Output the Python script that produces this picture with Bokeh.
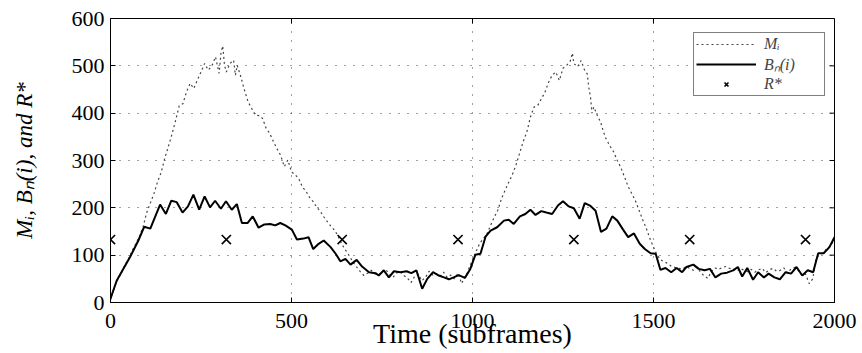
import numpy as np
from bokeh.plotting import figure
from bokeh.models import Range1d, Legend, LegendItem, FixedTicker
from bokeh.embed import file_html
from bokeh.resources import INLINE

# ---------------- data ----------------
m_time = [0, 10, 20, 30, 40, 50, 60, 70, 80, 90, 100, 110, 120, 130, 140, 150, 160, 170, 180, 190,
          200, 210, 220, 230, 240, 250, 260, 270, 280, 290, 300, 305, 310, 315, 320, 330, 340, 345, 350, 360,
          370, 380, 390, 400, 410, 420, 430, 440, 450, 460, 470, 480, 490, 500, 510, 520, 530, 540, 550, 560,
          570, 580, 590, 600, 610, 620, 630, 640, 650, 660, 670, 680, 690, 700, 710, 720, 730, 740, 750, 760,
          770, 780, 790, 800, 810, 820, 830, 840, 850, 860, 870, 880, 890, 900, 910, 920, 930, 940, 950, 960,
          970, 980, 985, 990, 1000, 1010, 1020, 1030, 1040, 1050, 1060, 1070, 1080, 1090, 1100, 1110, 1120, 1130, 1140, 1150,
          1160, 1170, 1180, 1190, 1200, 1210, 1220, 1230, 1240, 1250, 1260, 1270, 1276, 1280, 1290, 1300, 1310, 1317, 1321, 1326,
          1330, 1335, 1345, 1354, 1360, 1367, 1380, 1390, 1400, 1410, 1420, 1430, 1440, 1450, 1460, 1470, 1480, 1490, 1500, 1510,
          1520, 1530, 1540, 1550, 1560, 1570, 1580, 1590, 1600, 1610, 1620, 1630, 1640, 1650, 1660, 1670, 1680, 1690, 1700, 1710,
          1720, 1730, 1740, 1750, 1760, 1770, 1780, 1790, 1800, 1810, 1820, 1830, 1840, 1850, 1860, 1870, 1880, 1890, 1900, 1910,
          1920, 1930, 1940, 1950, 1960, 1970, 1980, 1990, 2000]
m_value = [5, 30, 48, 62, 80, 92, 110, 124, 140, 160, 190, 210, 230, 255, 275, 305, 330, 356, 385, 416,
           420, 445, 463, 452, 470, 487, 505, 491, 500, 519, 484, 526, 542, 501, 487, 505, 512, 480, 501, 477,
           449, 424, 410, 396, 395, 389, 368, 357, 340, 325, 311, 287, 301, 276, 270, 262, 244, 235, 222, 213,
           201, 192, 180, 170, 160, 152, 138, 122, 110, 98, 85, 75, 65, 57, 62, 68, 61, 58, 64, 70,
           60, 53, 62, 66, 57, 52, 42, 55, 60, 46, 53, 66, 58, 61, 55, 64, 53, 58, 50, 62,
           40, 55, 61, 72, 90, 108, 125, 135, 145, 163, 180, 195, 219, 237, 254, 270, 290, 315, 340, 360,
           392, 413, 416, 430, 444, 465, 480, 487, 469, 495, 501, 510, 527, 505, 498, 511, 490, 483, 455, 434,
           400, 413, 395, 381, 365, 349, 330, 318, 300, 285, 265, 245, 230, 215, 195, 175, 157, 135, 117, 100,
           90, 86, 82, 76, 74, 72, 70, 76, 72, 68, 75, 64, 56, 51, 66, 73, 70, 74, 76, 72,
           71, 66, 72, 68, 65, 70, 64, 69, 72, 63, 69, 72, 66, 68, 73, 62, 71, 74, 68, 57,
           60, 40, 50, 96, 100, 106, 115, 120, 134]

b_time = [0, 17, 36, 54, 77, 93, 110, 137, 153, 168, 183, 199, 214, 229, 245, 260, 275, 289, 305, 319,
          335, 349, 363, 379, 393, 409, 425, 441, 455, 469, 483, 501, 515, 533, 547, 560, 575, 589, 608, 622,
          635, 649, 663, 680, 695, 714, 732, 741, 755, 769, 783, 801, 818, 831, 845, 861, 875, 891, 907, 921,
          935, 948, 962, 979, 994, 1008, 1022, 1036, 1050, 1068, 1087, 1100, 1114, 1131, 1146, 1160, 1174, 1190, 1204, 1220,
          1236, 1250, 1266, 1280, 1296, 1310, 1326, 1340, 1355, 1370, 1386, 1400, 1416, 1430, 1446, 1462, 1476, 1492, 1506, 1519,
          1533, 1549, 1564, 1579, 1591, 1610, 1625, 1641, 1656, 1671, 1687, 1703, 1720, 1733, 1745, 1759, 1775, 1789, 1805, 1818,
          1834, 1849, 1865, 1880, 1895, 1911, 1926, 1941, 1955, 1970, 1986, 2000]
b_value = [8, 46, 72, 96, 131, 160, 156, 207, 187, 215, 212, 190, 203, 228, 196, 224, 201, 215, 198, 214,
           196, 208, 168, 168, 182, 158, 165, 166, 163, 168, 163, 154, 133, 135, 138, 113, 124, 131, 117, 103,
           87, 92, 80, 90, 76, 64, 62, 57, 68, 53, 66, 64, 66, 62, 68, 29, 50, 64, 57, 53,
           49, 53, 58, 52, 71, 101, 103, 139, 152, 159, 173, 175, 166, 182, 187, 196, 185, 193, 190, 187,
           205, 214, 203, 199, 177, 210, 204, 194, 149, 156, 182, 173, 154, 138, 146, 124, 113, 104, 103, 69,
           73, 64, 73, 64, 75, 80, 71, 68, 71, 53, 61, 63, 68, 75, 55, 73, 48, 64, 53, 61,
           53, 49, 64, 61, 75, 57, 68, 64, 104, 104, 117, 138]

r_time = [0, 320, 640, 960, 1280, 1600, 1920]
r_value = [133, 133, 133, 133, 133, 133, 133]

x_ticks = [0, 500, 1000, 1500, 2000]
y_ticks = [0, 100, 200, 300, 400, 500, 600]
x_title = "Time (subframes)"
y_title = "Mᵢ, Bₙ(i), and R*"
legend_labels = ["Mᵢ", "Bₙ(i)", "R*"]

# ---------------- figure ----------------
FONT = "Liberation Serif"
W, H = 862, 353
LEFT, RIGHT, TOP, BOTTOM = 110, 28, 18, 51
X0, X1, Y0, Y1 = 0, 2000, 0, 600

p = figure(width=W, height=H, output_backend="svg", toolbar_location=None,
           x_range=Range1d(X0, X1), y_range=Range1d(Y0, Y1),
           min_border_left=LEFT, min_border_right=RIGHT, min_border_top=TOP,
           min_border_bottom=BOTTOM, background_fill_color="white",
           border_fill_color="white")
p.outline_line_color = "black"
p.outline_line_width = 1

for ax in (p.xaxis[0], p.yaxis[0]):
    ax.major_label_text_font = FONT
    ax.major_label_text_font_size = "22px"
    ax.major_label_text_color = "black"
    ax.axis_line_color = "black"
    ax.major_tick_in = 5
    ax.major_tick_out = 0
    ax.minor_tick_in = 0
    ax.minor_tick_out = 0
    ax.major_tick_line_color = "black"
    ax.axis_label_text_color = "black"
    ax.axis_label_text_font = FONT

p.xaxis[0].ticker = FixedTicker(ticks=x_ticks)
p.yaxis[0].ticker = FixedTicker(ticks=y_ticks)
p.xaxis[0].major_label_standoff = 11
p.yaxis[0].major_label_standoff = 6
p.xaxis[0].axis_label = x_title
p.xaxis[0].axis_label_text_font_style = "normal"
p.xaxis[0].axis_label_text_font_size = "28px"
p.xaxis[0].axis_label_standoff = -13
p.yaxis[0].axis_label = y_title
p.yaxis[0].axis_label_text_font_style = "italic"
p.yaxis[0].axis_label_text_font_size = "23px"
p.yaxis[0].axis_label_standoff = 32

# inward box ticks on top and right edges (derived from tick lists)
FRAME_W = W - LEFT - RIGHT
FRAME_H = H - TOP - BOTTOM
tick_dx = 5 * (X1 - X0) / FRAME_W
tick_dy = 5 * (Y1 - Y0) / FRAME_H
p.segment(x0=x_ticks, x1=x_ticks, y0=[Y1] * len(x_ticks), y1=[Y1 - tick_dy] * len(x_ticks),
          line_color="black", line_width=1)
p.segment(x0=[X1] * len(y_ticks), x1=[X1 - tick_dx] * len(y_ticks), y0=y_ticks, y1=y_ticks,
          line_color="black", line_width=1)

p.xgrid.ticker = FixedTicker(ticks=x_ticks)
p.ygrid.ticker = FixedTicker(ticks=y_ticks)
for g in (p.xgrid[0], p.ygrid[0]):
    g.grid_line_color = "black"
    g.grid_line_alpha = 0.75
    g.grid_line_dash = "1 8"
    g.grid_line_width = 1

m_r = p.line(m_time, m_value, line_color="#444444", line_width=1.2, line_dash="2 3")
b_r = p.line(b_time, b_value, line_color="black", line_width=2)
r_r = p.scatter(r_time, r_value, marker="x", size=13, line_color="black", line_width=1.6)

legend = Legend(items=[LegendItem(label=legend_labels[0], renderers=[m_r]),
                       LegendItem(label=legend_labels[1], renderers=[b_r]),
                       LegendItem(label=legend_labels[2], renderers=[r_r])],
                location=(583, 206))
legend.label_text_font = FONT
legend.label_text_font_style = "italic"
legend.label_text_font_size = "16px"
legend.glyph_width = 60
legend.glyph_height = 14
legend.label_height = 14
legend.label_width = 58
legend.spacing = 0
legend.padding = 2
legend.margin = 0
legend.label_standoff = 8
legend.border_line_color = "black"
legend.border_line_width = 1.5
legend.background_fill_color = "white"
legend.background_fill_alpha = 1
p.add_layout(legend, "center")

open("out.html", "w").write(file_html(p, INLINE))
